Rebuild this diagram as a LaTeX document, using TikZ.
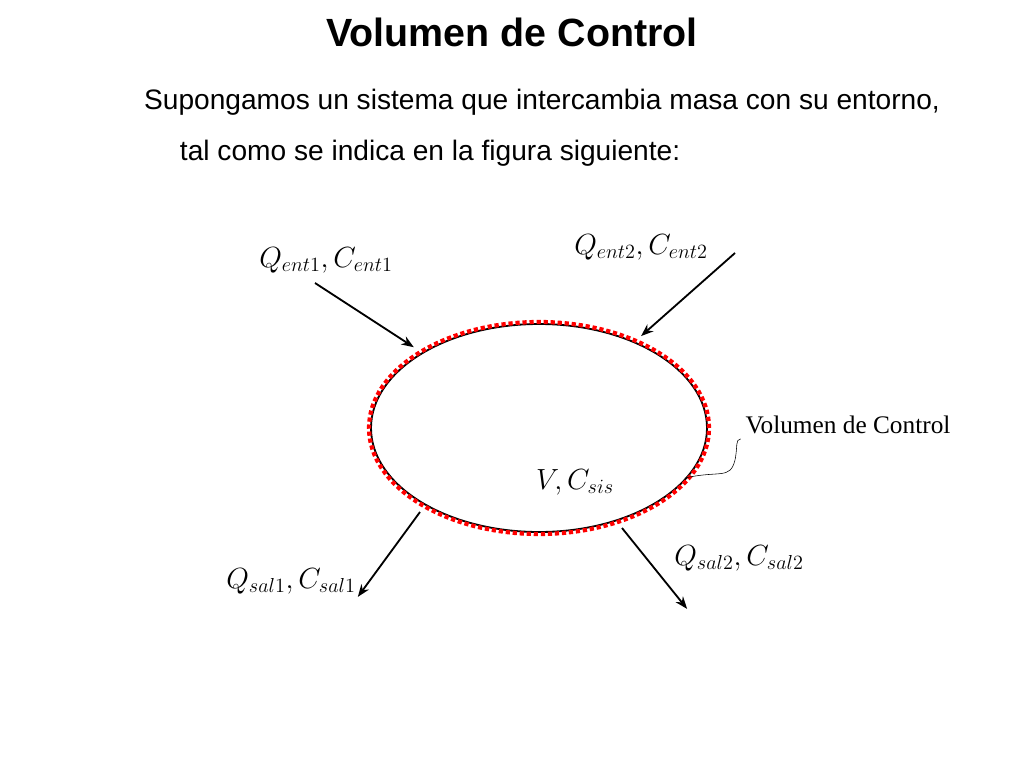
\documentclass[tikz,border=0pt]{standalone}
\usepackage{amsmath}
\usepackage{fontspec}
\setmainfont{Liberation Sans}
\newfontfamily\serifvc{Liberation Serif}
\usetikzlibrary{arrows.meta,positioning,decorations.pathmorphing}
\tikzset{>=Stealth}
\tikzset{flow/.style={line width=1.3pt,->,shorten >=1pt},
         mlabel/.style={font=\fontsize{20}{24}\selectfont}}
\begin{document}
\begin{tikzpicture}[x=0.025cm,y=0.025cm]
\useasboundingbox[fill=white] (0,0) rectangle (1024,-768);

% Titles
\node[font=\fontsize{28}{32}\selectfont\bfseries] (title) at (512,-32) {Volumen de Control};
\node[font=\fontsize{20}{24}\selectfont] (line1) at (542,-102) {Supongamos un sistema que intercambia masa con su entorno,};
\node[font=\fontsize{20}{24}\selectfont,anchor=west] (line2) at (175,-153) {tal como se indica en la figura siguiente:};

% Control volume
\draw[line width=1.3pt] (539,-428) ellipse (168 and 104);
\draw[red,line width=3pt,dotted] (539,-428) ellipse (170 and 106);

% Flows
\coordinate (e1a) at (315,-283); \coordinate (e1b) at (415,-348);
\coordinate (e2a) at (735,-253); \coordinate (e2b) at (640,-337);
\coordinate (s1a) at (420,-512); \coordinate (s1b) at (357,-598);
\coordinate (s2a) at (622,-528); \coordinate (s2b) at (688,-610);
\draw[flow] (e1a) -- (e1b);
\draw[flow] (e2a) -- (e2b);
\draw[flow] (s1a) -- (s1b);
\draw[flow] (s2a) -- (s2b);

% Labels
\node[mlabel] (qe1) at (326,-260) {$Q_{ent1},C_{ent1}$};
\node[mlabel] (qe2) at (641,-247) {$Q_{ent2},C_{ent2}$};
\node[mlabel] (vcs) at (575,-482) {$V,C_{sis}$};
\node[mlabel] (qs1) at (291,-581) {$Q_{sal1},C_{sal1}$};
\node[mlabel] (qs2) at (739,-558) {$Q_{sal2},C_{sal2}$};
\node[font=\serifvc\fontsize{18}{21}\selectfont] (vclab) at (848,-425) {Volumen de Control};

% Pointer
\coordinate (ptr) at (685,-478);
\draw (ptr) .. controls (720,-470) and (730,-480) .. (735,-460)
            .. controls (738,-445) and (735,-440) .. (vclab.south west);
\end{tikzpicture}
\end{document}
